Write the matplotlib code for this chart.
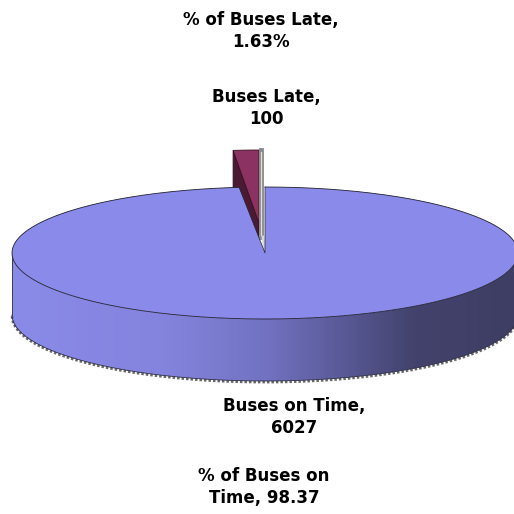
import numpy as np
import matplotlib.pyplot as plt
from matplotlib.patches import Polygon
from matplotlib.colors import LinearSegmentedColormap

categories = ['Buses on Time', 'Buses Late']
counts = [6027, 100]
pct_labels = ['% of Buses on\nTime, 98.37', '% of Buses Late,\n1.63%']

# layout of the 3d pie (pixel coords)
cx, cy = 265, 253
a, b = 253, 66
depth = 62
late_dx, late_dy, late_b = -6, -30, 73


def pt(theta, x0=cx, y0=cy, bb=b):
    t = np.radians(theta)
    return x0 + a * np.cos(t), y0 - bb * np.sin(t)


fig = plt.figure(figsize=(5.14, 5.14), dpi=100)
ax = fig.add_axes([0, 0, 1, 1])
ax.set_xlim(0, 514)
ax.set_ylim(514, 0)
ax.axis('off')

total = sum(counts)
span_on = 360 * counts[0] / total
start = 90
end_on = start - span_on          # on time goes clockwise from 12 o'clock
end_late = end_on - 360 * counts[1] / total

# late slice (exploded to the back)
lx, ly = cx + late_dx, cy + late_dy
th = np.linspace(end_on, end_late, 20)
rx, ry = pt(end_on, lx, ly, late_b)
side = [(lx, ly), (rx, ry), (rx, ry + depth), (lx, ly + depth)]
ax.add_patch(Polygon(side, closed=True, fc='#4a1a32', ec='#2a0a1a', lw=0.6, zorder=1))
xs, ys = pt(th, lx, ly, late_b)
top_late = [(lx, ly)] + list(zip(xs, ys))
ax.add_patch(Polygon(top_late, closed=True, fc='#8c3262', ec='#3a1020', lw=0.6, zorder=2))
gx, gy = pt(end_late, lx, ly, late_b)
ax.plot([gx + 2, gx + 2], [gy, ly + 14], color='#8a8a8a', lw=3.5, zorder=3)
ax.plot([gx + 2, gx + 2], [gy + 2, ly + 12], color='#e0e0e0', lw=0.9, zorder=3)
ax.plot([gx + 4, cx], [ly + 14, cy], color='#d8d8d8', lw=2, zorder=3)

# on time side with gradient
th = np.linspace(180, 360, 200)
sx, sy = pt(th)
side_pts = list(zip(sx, sy)) + list(zip(sx[::-1], sy[::-1] + depth))
side_poly = Polygon(side_pts, closed=True, fc='none', ec='none', zorder=4)
ax.add_patch(side_poly)
cmap = LinearSegmentedColormap.from_list('side', [
    (0.0, '#8a8ae8'), (0.3, '#8484de'), (0.5, '#7272c2'),
    (0.65, '#5a5a98'), (0.8, '#42426c'), (1.0, '#3e3e64')])
grad = np.linspace(0, 1, 300).reshape(1, -1)
img = ax.imshow(grad, cmap=cmap, aspect='auto', extent=[cx - a, cx + a, cy + b + depth, cy - 5],
                zorder=4, interpolation='bilinear')
img.set_clip_path(side_poly)
ax.plot(sx, sy + depth + 1.2, color='#2a2a2a', lw=1.8, alpha=0.7, zorder=4, ls=(0, (1, 0.8)))
ax.plot(sx, sy + depth, color='#30304a', lw=0.6, zorder=5)
ax.plot([cx - a, cx - a], [cy, cy + depth], color='#30304a', lw=0.6, zorder=5)

# on time top
th = np.linspace(start, end_on, 400)
tx, ty = pt(th)
top_on = [(cx, cy)] + list(zip(tx, ty))
ax.add_patch(Polygon(top_on, closed=True, fc='#8a8aea', ec='none', zorder=6))
ax.plot(tx, ty, color='#202030', lw=0.6, zorder=7)
ex, ey = pt(end_on)
ax.plot([ex, cx, cx], [ey, cy, cy - b], color='#202030', lw=0.5, zorder=7)

# labels
font = dict(family=['DejaVu Sans'], fontsize=12, fontweight='bold',
            ha='center', va='center', linespacing=1.25)
ax.text(261, 31, pct_labels[1], **font)
ax.text(266, 108, f'{categories[1]},\n{counts[1]}', **font)
ax.text(294, 417, f'{categories[0]},\n{counts[0]}', **font)
ax.text(264, 487, pct_labels[0], **font)

fig.savefig('out.png', dpi=100)
